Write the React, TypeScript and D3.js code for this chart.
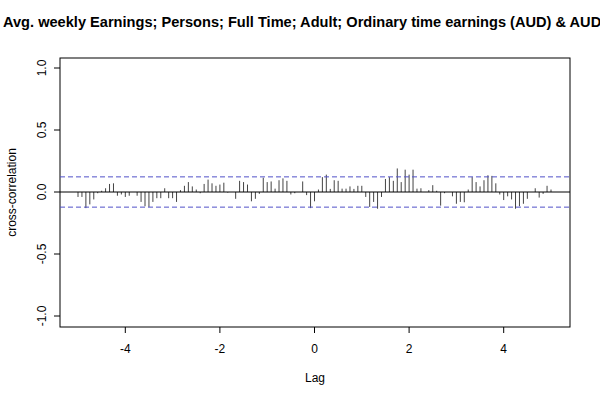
import React from 'react';
import * as d3 from 'd3';

// ccf values, lag -5 .. 5 in steps of 1/12
const ccfValues = [
  -0.04, -0.04, -0.13, -0.10, -0.06, -0.01, 0.01, 0.03, 0.065, 0.07,
  -0.03, -0.02, -0.04, -0.03, 0.0, -0.03, -0.08, -0.115, -0.12, -0.08,
  -0.05, -0.05, 0.03, -0.05, -0.05, -0.08, 0.015, 0.05, 0.08, 0.045,
  0.02, -0.01, 0.065, 0.10, 0.07, 0.05, 0.06, 0.075, -0.005, 0.0,
  -0.055, 0.09, 0.08, 0.06, -0.075, -0.055, -0.015, 0.115, 0.08, 0.085,
  0.027, 0.095, 0.11, 0.09, -0.02, -0.01, 0.0, 0.085, -0.025, -0.13,
  -0.075, 0.02, 0.12, 0.14, 0.025, 0.095, 0.09, 0.027, 0.027, 0.045,
  0.025, 0.05, 0.05, -0.04, -0.12, -0.08, -0.135, -0.04, 0.105, 0.12,
  0.09, 0.19, 0.08, 0.18, 0.14, 0.18, 0.027, 0.03, 0.0, 0.015,
  0.055, 0.01, -0.11, -0.01, 0.0, -0.035, -0.095, -0.08, -0.083, 0.02,
  0.12, 0.08, 0.045, 0.095, 0.135, 0.13, 0.07, -0.02, -0.065, -0.035,
  -0.06, -0.135, -0.115, -0.095, -0.055, 0.0, 0.03, -0.045, -0.015, 0.05,
  0.02,
];
const lags = ccfValues.map((_, i) => -5 + i / 12);
const xTicks = [-4, -2, 0, 2, 4];
const yTicks = [-1, -0.5, 0, 0.5, 1];
const ciBound = 0.122;
const title = 'Avg. weekly Earnings; Persons; Full Time; Adult; Ordinary time earnings (AUD) & AUDUSD';

export default function App() {
  const x = d3.scaleLinear().domain([-5, 5]).range([78, 551]);
  const y = d3.scaleLinear().domain([-1, 1]).range([316, 68]);
  const box = { l: 60, r: 570, t: 58, b: 327 };
  const font = 'Liberation Sans, Arial, sans-serif';
  return (
    <svg width={600} height={400} style={{ position: 'absolute', left: 0, top: 0, background: '#fff' }} fontFamily={font}>
      <text x={3} y={27} fontSize={14.6} fontWeight="bold">{title}</text>
      <rect x={box.l} y={box.t} width={box.r - box.l} height={box.b - box.t} fill="none" stroke="#000" />
      {lags.map((l, i) => (
        <line key={i} x1={x(l)} x2={x(l)} y1={y(0)} y2={y(ccfValues[i])} stroke="#444" strokeWidth={1} />
      ))}
      <line x1={box.l} x2={box.r} y1={y(0)} y2={y(0)} stroke="#000" />
      {[ciBound, -ciBound].map((c) => (
        <line key={c} x1={box.l} x2={box.r} y1={y(c)} y2={y(c)} stroke="#5050c8" strokeDasharray="5,3" />
      ))}
      {xTicks.map((t) => (
        <g key={t}>
          <line x1={x(t)} x2={x(t)} y1={box.b} y2={box.b + 6} stroke="#000" />
          <text x={x(t)} y={box.b + 26} fontSize={12} textAnchor="middle">{t}</text>
        </g>
      ))}
      {yTicks.map((t) => (
        <g key={t}>
          <line x1={box.l - 6} x2={box.l} y1={y(t)} y2={y(t)} stroke="#000" />
          <text transform={`translate(${box.l - 14},${y(t)}) rotate(-90)`} fontSize={12} textAnchor="middle">{t.toFixed(1)}</text>
        </g>
      ))}
      <text x={(box.l + box.r) / 2} y={382} fontSize={12} textAnchor="middle">Lag</text>
      <text transform={`translate(16,${(box.t + box.b) / 2}) rotate(-90)`} fontSize={12} textAnchor="middle">cross-correlation</text>
    </svg>
  );
}
